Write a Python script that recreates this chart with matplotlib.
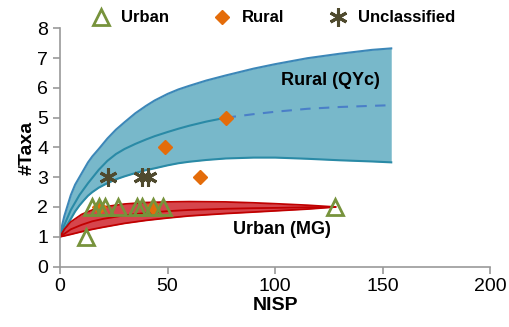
import numpy as np
import matplotlib.pyplot as plt
from matplotlib.lines import Line2D

plt.rcParams['font.family'] = ['Liberation Sans', 'DejaVu Sans']

# rarefaction curves
rural_x = [0, 1, 2, 3.5, 5, 7, 9, 11, 13, 15, 18, 22, 26, 30, 35, 40, 44, 50, 55, 60, 68, 77,
           90, 100, 115, 130, 145, 154]
rural_hi = [1, 1.4, 1.7, 2.05, 2.4, 2.75, 3.0, 3.25, 3.5, 3.7, 3.95, 4.3, 4.6, 4.85, 5.15, 5.4, 5.58,
            5.8, 5.95, 6.07, 6.25, 6.42, 6.65, 6.8, 7.0, 7.15, 7.28, 7.33]
rural_mid = [1, 1.2, 1.4, 1.65, 1.9, 2.15, 2.4, 2.6, 2.8, 2.98, 3.25, 3.55, 3.78, 3.95, 4.12, 4.27, 4.38,
             4.52, 4.63, 4.73, 4.87, 5.0, 5.12, 5.2, 5.3, 5.36, 5.4, 5.42]
rural_lo = [1, 1.12, 1.25, 1.42, 1.6, 1.85, 2.05, 2.22, 2.38, 2.5, 2.65, 2.8, 2.93, 3.03, 3.14, 3.24, 3.3,
            3.4, 3.47, 3.52, 3.58, 3.63, 3.66, 3.66, 3.62, 3.57, 3.53, 3.5]
rural_obs = 77  # solid up to the observed sample, dashed beyond

urban_x = [0, 2, 5, 10, 15, 20, 30, 40, 50, 60, 77, 90, 100, 115, 128]
urban_hi = [1, 1.25, 1.5, 1.75, 1.9, 2.0, 2.1, 2.15, 2.17, 2.18, 2.17, 2.14, 2.11, 2.06, 2.0]
urban_mid = [1, 1.1, 1.25, 1.4, 1.52, 1.6, 1.72, 1.8, 1.86, 1.9, 1.94, 1.96, 1.97, 1.99, 2.0]
urban_lo = [1, 1.03, 1.08, 1.17, 1.25, 1.32, 1.45, 1.55, 1.63, 1.7, 1.78, 1.83, 1.87, 1.93, 2.0]

# sites
urban_nisp = [12, 15, 18, 21, 27, 36, 38, 43, 48, 128]
urban_taxa = [1, 2, 2, 2, 2, 2, 2, 2, 2, 2]
rural_nisp = [18, 43, 49, 65, 77]
rural_taxa = [2, 2, 4, 3, 5]
uncl_nisp = [22.5, 38.3, 41]
uncl_taxa = [3, 3, 3]

fig = plt.figure(figsize=(5.09, 3.27), dpi=100)
ax = fig.add_axes([0.118, 0.185, 0.845, 0.728])

# rural band
ax.fill_between(rural_x, rural_lo, rural_hi, color='#78b8ca', lw=0)
ax.plot(rural_x, rural_hi, color='#3c87b8', lw=1.5)
ax.plot(rural_x, rural_lo, color='#2a8aa6', lw=1.5)
rx = np.array(rural_x)
rm = np.array(rural_mid)
ax.plot(rx[rx <= rural_obs], rm[rx <= rural_obs], color='#2a8aa6', lw=1.5)
ax.plot(rx[rx >= rural_obs], rm[rx >= rural_obs], color='#4a7fc8', lw=1.5, ls=(0, (5, 4)))

# urban band
ax.fill_between(urban_x, urban_lo, urban_hi, color='#d6454c', lw=0)
ax.plot(urban_x, urban_hi, color='#c00000', lw=1.3)
ax.plot(urban_x, urban_mid, color='#c00000', lw=1.3)
ax.plot(urban_x, urban_lo, color='#c00000', lw=1.3)

# points
ax.plot(rural_nisp, rural_taxa, ls='none', marker='D', ms=7.5, color='#e46c0a', zorder=4)
ax.plot(uncl_nisp, uncl_taxa, ls='none', marker=(6, 2, 0), ms=13, mew=2.2,
        color='#4f4a2e', zorder=4)
ax.plot(urban_nisp, urban_taxa, ls='none', marker='^', ms=12, mew=2, mfc='none',
        mec='#77933c', zorder=5)

ax.text(125.5, 6.26, 'Rural (QYc)', fontsize=13, fontweight='bold', ha='center', va='center')
ax.text(103, 1.24, 'Urban (MG)', fontsize=13, fontweight='bold', ha='center', va='center')

ax.set_xlim(0, 200)
ax.set_ylim(0, 8)
ax.set_xticks([0, 50, 100, 150, 200])
ax.set_yticks(range(0, 9))
ax.set_xlabel('NISP', fontsize=14, fontweight='bold', labelpad=1)
ax.set_ylabel('#Taxa', fontsize=14, fontweight='bold', labelpad=1)
for s in ['top', 'right']:
    ax.spines[s].set_visible(False)
for s in ['left', 'bottom']:
    ax.spines[s].set_color('#999999')
    ax.spines[s].set_linewidth(1.2)
ax.tick_params(colors='#999999', labelcolor='black', labelsize=14, length=5, width=1.2)

handles = [
    Line2D([], [], ls='none', marker='^', ms=12, mew=2, mfc='none', mec='#77933c'),
    Line2D([], [], ls='none', marker='D', ms=7.5, color='#e46c0a'),
    Line2D([], [], ls='none', marker=(6, 2, 0), ms=13, mew=2.2, color='#4f4a2e'),
]
fig.legend(handles, ['Urban', 'Rural', 'Unclassified'], loc='center', ncol=3,
           bbox_to_anchor=(0.53, 0.945), frameon=False, handletextpad=0.2,
           columnspacing=2.2, prop={'size': 12, 'weight': 'bold'})

fig.savefig('out.png', dpi=100)
